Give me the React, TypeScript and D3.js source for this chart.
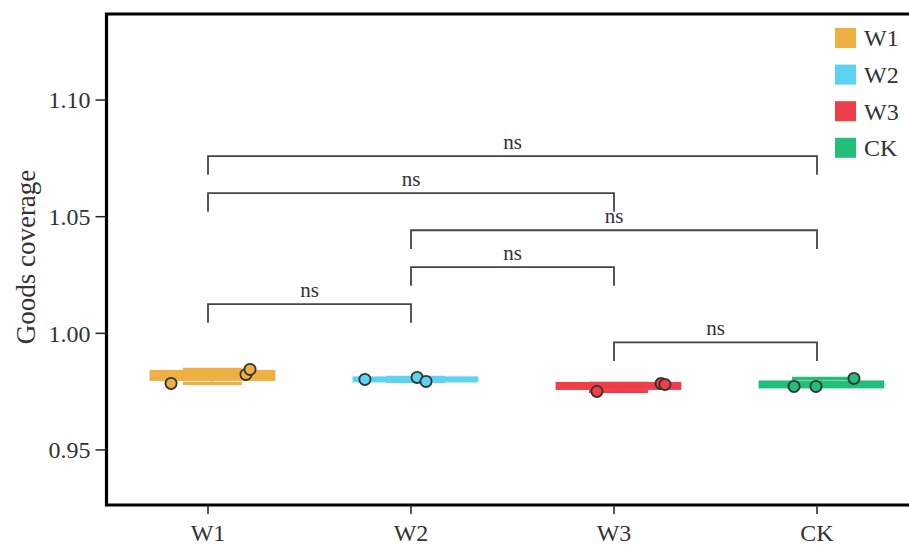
import React from "react";
import * as d3 from "d3";

const groups = ["W1", "W2", "W3", "CK"];
const colors = ["#EFB043", "#5CD3F3", "#EE3E4A", "#22BF7B"];
const values = [
  [0.97852, 0.98239, 0.98454],
  [0.98024, 0.9811, 0.97938],
  [0.97509, 0.97852, 0.97809],
  [0.97723, 0.97723, 0.98067],
];
const jitter = [
  [-0.182, 0.187, 0.207],
  [-0.227, 0.03, 0.074],
  [-0.084, 0.232, 0.251],
  [-0.113, -0.005, 0.182],
];
const yTicks = [0.95, 1.0, 1.05, 1.1];
const comparisons = [
  ["W1", "CK"],
  ["W1", "W3"],
  ["W2", "CK"],
  ["W2", "W3"],
  ["W1", "W2"],
  ["W3", "CK"],
];
const bracketHeights = [1.076, 1.0601, 1.0442, 1.0284, 1.0125, 0.9961];
const bracketLabels = ["ns", "ns", "ns", "ns", "ns", "ns"];
const yTitle = "Goods coverage";

const W = 909;
const H = 548;
const left = 106.5;
const right = 918.5;
const top = 14;
const bottom = 505;
const font = "'Liberation Serif', 'Times New Roman', serif";

export default function App() {
  const x = d3.scalePoint<string>().domain(groups).range([left, right]).padding(0.5);
  const step = x.step();
  const y = d3.scaleLinear().domain([0.9264, 1.1369]).range([bottom, top]);
  const dodge = 0.022 * step;
  const boxW = 0.6 * step;
  const capW = 0.29 * step;
  const tip = y(0) - y(0.008);

  return (
    <svg
      width={W}
      height={H}
      style={{ position: "absolute", left: 0, top: 0, background: "#fff" }}
      fontFamily={font}
    >
      {/* boxes */}
      {groups.map((g, i) => {
        const vals = values[i].slice().sort(d3.ascending);
        const q1 = d3.quantile(vals, 0.25)!;
        const q3 = d3.quantile(vals, 0.75)!;
        const mn = d3.min(vals)!;
        const mx = d3.max(vals)!;
        const cx = x(g)! + dodge;
        return (
          <g key={g}>
            <line x1={cx} x2={cx} y1={y(mx)} y2={y(mn)} stroke={colors[i]} strokeWidth={1.5} />
            <line x1={cx - capW / 2} x2={cx + capW / 2} y1={y(mx)} y2={y(mx)} stroke={colors[i]} strokeWidth={3.2} />
            <line x1={cx - capW / 2} x2={cx + capW / 2} y1={y(mn)} y2={y(mn)} stroke={colors[i]} strokeWidth={3.2} />
            <rect
              x={cx - boxW / 2}
              width={boxW}
              y={y(q3)}
              height={Math.max(0.5, y(q1) - y(q3))}
              fill={colors[i]}
              stroke={colors[i]}
              strokeWidth={4}
            />
          </g>
        );
      })}
      {/* points */}
      {groups.map((g, i) =>
        values[i].map((v, j) => (
          <circle
            key={g + j}
            cx={x(g)! + jitter[i][j] * step}
            cy={y(v)}
            r={5.6}
            fill={colors[i]}
            stroke="#333"
            strokeWidth={1.8}
          />
        ))
      )}
      {/* brackets */}
      {comparisons.map((c, k) => {
        const x1 = x(c[0])!;
        const x2 = x(c[1])!;
        const yy = y(bracketHeights[k]);
        return (
          <g key={k}>
            <path
              d={`M${x1},${yy + tip}V${yy}H${x2}V${yy + tip}`}
              fill="none"
              stroke="#444"
              strokeWidth={1.8}
            />
            <text x={(x1 + x2) / 2} y={yy - 7} textAnchor="middle" fontSize={21} fill="#333">
              {bracketLabels[k]}
            </text>
          </g>
        );
      })}
      {/* frame */}
      <path
        d={`M${right},${top}H${left}V${bottom}H${right}`}
        fill="none"
        stroke="#000"
        strokeWidth={3.2}
      />
      {/* y axis */}
      {yTicks.map((t) => (
        <g key={t}>
          <line x1={left - 11} x2={left} y1={y(t)} y2={y(t)} stroke="#222" strokeWidth={1.5} />
          <text x={left - 16} y={y(t)} dy="0.35em" textAnchor="end" fontSize={24} fill="#333">
            {t.toFixed(2)}
          </text>
        </g>
      ))}
      <text
        transform={`translate(35,257) rotate(-90)`}
        textAnchor="middle"
        fontSize={27}
        fill="#333"
      >
        {yTitle}
      </text>
      {/* x axis */}
      {groups.map((g) => (
        <g key={g}>
          <line x1={x(g)} x2={x(g)} y1={bottom} y2={bottom + 9} stroke="#222" strokeWidth={1.5} />
          <text x={x(g)} y={bottom + 36} textAnchor="middle" fontSize={24} fill="#333">
            {g}
          </text>
        </g>
      ))}
      {/* legend */}
      {groups.map((g, i) => (
        <g key={g} transform={`translate(835,${28 + i * 36.6})`}>
          <rect width={21} height={20} fill={colors[i]} />
          <text x={29} y={10} dy="0.35em" fontSize={24} fill="#333">
            {g}
          </text>
        </g>
      ))}
    </svg>
  );
}
